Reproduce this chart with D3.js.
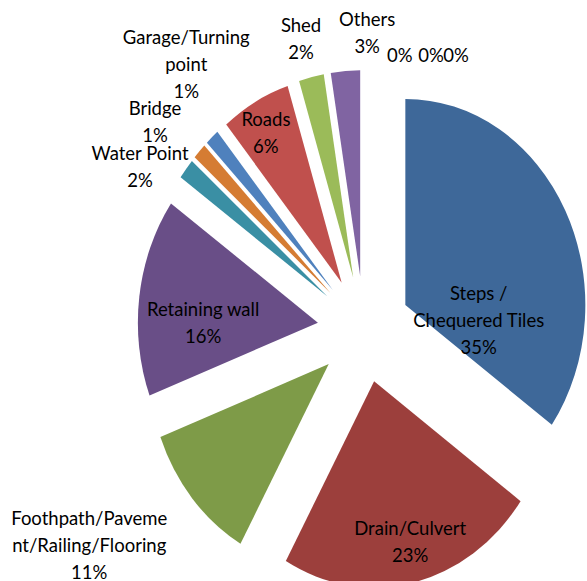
<!DOCTYPE html>
<html>
<head>
<meta charset="utf-8">
<script src="https://cdnjs.cloudflare.com/ajax/libs/d3/7.8.5/d3.min.js"></script>
<style>
  body { margin: 0; background: #fff; }
  svg { display: block; }
</style>
</head>
<body>
<div id="chart"></div>
<script>
// category names (line breaks as in the original labels)
const categories = ["Steps /\nChequered Tiles", "Drain/Culvert", "Foothpath/Paveme\nnt/Railing/Flooring",
    "Retaining wall", "Water Point", "Bridge", "Garage/Turning\npoint", "Roads", "Shed", "Others", "", "", ""];
const counts = [280, 187, 89, 125, 13, 10, 10, 50, 18, 21, 0, 0, 0];
const colors = ["#3e6899", "#9c3f3c", "#7e9b48", "#694e87", "#3a8fa4", "#d57c33",
    "#4f81bd", "#c0504d", "#9bbb59", "#8064a2", "#3e6899", "#9c3f3c", "#7e9b48"];

// label placement: [angle in degrees, distance from centre]
const labelPolar = [[86, 115], [166, 191], [235.6, 333], [272, 161], [302.5, 265.5], [311, 277],
    [322.5, 292], [330.3, 198], [346.1, 262], [0.7, 259], [8.5, 242], [15.6, 249], [21, 257]];

let dim = { width: 587, height: 581 };
let cx = 364, cy = 329.4;
let radius = 180, explode = 46.5, stretch = 1.145, lineH = 27;

let svg = d3.select('#chart').append('svg')
    .attr('width', dim.width)
    .attr('height', dim.height);

let g = svg.append('g')
    .attr('transform', 'translate(' + cx + ',' + cy + ') scale(1,' + stretch + ')');

let pie = d3.pie().sort(null).value(d => d);
let arcs = pie(counts);
let arc = d3.arc().innerRadius(0).outerRadius(radius);
let total = d3.sum(counts);

g.selectAll('path')
    .data(arcs)
    .join('path')
    .attr('d', arc)
    .attr('fill', (d, i) => colors[i])
    .attr('transform', d => {
        let m = (d.startAngle + d.endAngle) / 2;
        return 'translate(' + (explode * Math.sin(m)) + ',' + (-explode * Math.cos(m)) + ')';
    });

let labels = svg.append('g').selectAll('text')
    .data(arcs)
    .join('text')
    .attr('font-family', 'Lato, "Open Sans", sans-serif')
    .attr('font-size', 18.5)
    .attr('fill', '#000')
    .attr('text-anchor', 'middle')
    .attr('transform', (d, i) => {
        let a = labelPolar[i][0] * Math.PI / 180, r = labelPolar[i][1];
        return 'translate(' + (cx + r * Math.sin(a)) + ',' + (cy - r * Math.cos(a) * stretch) + ')';
    });

labels.each(function(d, i) {
    let lines = categories[i] ? categories[i].split('\n') : [];
    lines.push(Math.round(d.data / total * 100) + '%');
    let t = d3.select(this);
    lines.forEach((s, k) => {
        t.append('tspan')
            .attr('x', 0)
            .attr('y', (k - (lines.length - 1) / 2) * lineH)
            .attr('dominant-baseline', 'central')
            .text(s);
    });
});
</script>
</body>
</html>
